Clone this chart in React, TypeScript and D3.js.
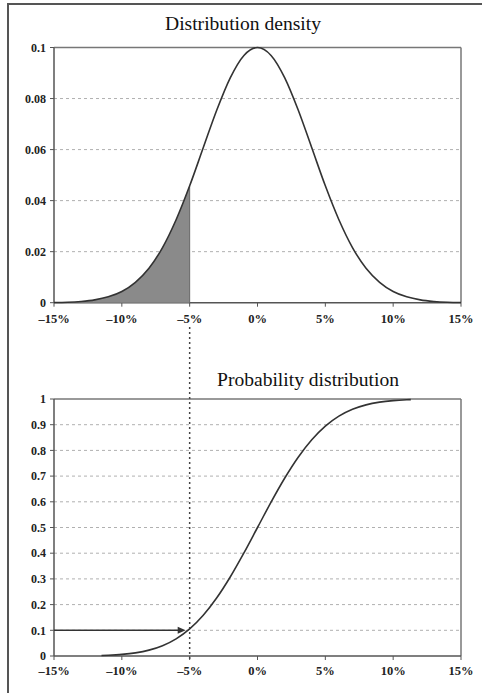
import React from "react";
import * as d3 from "d3";

// Returns (percent) at which the curves were read
const densityX = [-15, -14, -13, -12, -11, -10, -9, -8, -7, -6, -5, -4, -3, -2, -1, 0, 1, 2, 3, 4, 5, 6, 7, 8, 9, 10, 11, 12, 13, 14, 15];
const densityY = [0.0001, 0.0002, 0.0005, 0.0011, 0.0023, 0.0044, 0.008, 0.0135, 0.0216, 0.0325, 0.0458, 0.0607, 0.0755, 0.0882, 0.0969, 0.1, 0.0969, 0.0882, 0.0755, 0.0607, 0.0458, 0.0325, 0.0216, 0.0135, 0.008, 0.0044, 0.0023, 0.0011, 0.0005, 0.0002, 0.0001];

const cdfX = [-11.5, -11, -10, -9, -8, -7, -6, -5, -4, -3, -2, -1, 0, 1, 2, 3, 4, 5, 6, 7, 8, 9, 10, 11, 11.3];
const cdfY = [0.002, 0.003, 0.0062, 0.0122, 0.0228, 0.0401, 0.0668, 0.1056, 0.1587, 0.2266, 0.3085, 0.4013, 0.5, 0.5987, 0.6915, 0.7734, 0.8413, 0.8944, 0.9332, 0.9599, 0.9772, 0.9878, 0.9938, 0.997, 0.9976];

const xTicks = [-15, -10, -5, 0, 5, 10, 15];
const densityTicks = [0, 0.02, 0.04, 0.06, 0.08, 0.1];
const densityTickLabels = ["0", "0.02", "0.04", "0.06", "0.08", "0.1"];
const cdfTicks = [0, 0.1, 0.2, 0.3, 0.4, 0.5, 0.6, 0.7, 0.8, 0.9, 1];
const cdfTickLabels = ["0", "0.1", "0.2", "0.3", "0.4", "0.5", "0.6", "0.7", "0.8", "0.9", "1"];

const threshold = -5;
const thresholdProb = 0.1;

const titleTop = "Distribution density";
const titleBottom = "Probability distribution";

const W = 482;
const H = 693;
const FONT = "'Liberation Serif', 'Times New Roman', serif";

export default function App() {
  const x = d3.scaleLinear().domain([-15, 15]).range([54, 461]);
  const yTop = d3.scaleLinear().domain([0, 0.1]).range([302.7, 47.5]);
  const yBot = d3.scaleLinear().domain([0, 1]).range([656, 399]);

  const dens = densityX.map((v, i) => ({ x: v, y: densityY[i] }));
  const cdf = cdfX.map((v, i) => ({ x: v, y: cdfY[i] }));

  const densLine = d3
    .line<{ x: number; y: number }>()
    .x((d) => x(d.x))
    .y((d) => yTop(d.y))
    .curve(d3.curveMonotoneX);
  const densArea = d3
    .area<{ x: number; y: number }>()
    .x((d) => x(d.x))
    .y0(yTop(0))
    .y1((d) => yTop(d.y))
    .curve(d3.curveMonotoneX);
  const cdfLine = d3
    .line<{ x: number; y: number }>()
    .x((d) => x(d.x))
    .y((d) => yBot(d.y))
    .curve(d3.curveMonotoneX);

  const shaded = dens.filter((d) => d.x <= threshold);

  const fmtX = (v: number) => (v < 0 ? "\u2013" + Math.abs(v) : String(v)) + "%";

  const [x0, x1] = x.range();
  const gridColor = "#b0b0b0";
  const boxColor = "#777";
  const axisColor = "#555";
  const lineColor = "#333";

  const renderPanel = (
    y: d3.ScaleLinear<number, number>,
    ticks: number[],
    labels: string[],
    labelBaseline: number
  ) => {
    const yMin = y(ticks[0]);
    const yMax = y(ticks[ticks.length - 1]);
    return (
      <g>
        {ticks.slice(1, -1).map((t) => (
          <line key={"g" + t} x1={x0} x2={x1} y1={y(t)} y2={y(t)} stroke={gridColor} strokeWidth={1} strokeDasharray="3,3" />
        ))}
        <line x1={x0} x2={x1} y1={yMax} y2={yMax} stroke={boxColor} strokeWidth={1.5} />
        <line x1={x1} x2={x1} y1={yMax} y2={yMin} stroke={boxColor} strokeWidth={1.5} />
        <line x1={x0} x2={x0} y1={yMax} y2={yMin} stroke={axisColor} strokeWidth={1.5} />
        <line x1={x0} x2={x1} y1={yMin} y2={yMin} stroke={axisColor} strokeWidth={1.5} />
        {ticks.map((t, i) => (
          <g key={"yt" + t}>
            <line x1={x0 - 4} x2={x0} y1={y(t)} y2={y(t)} stroke={axisColor} strokeWidth={1} />
            <text x={x0 - 8} y={y(t)} dy="0.35em" textAnchor="end" fontFamily={FONT} fontWeight="bold" fontSize={12} fill="#222">
              {labels[i]}
            </text>
          </g>
        ))}
        {xTicks.map((t) => (
          <g key={"xt" + t}>
            <line x1={x(t)} x2={x(t)} y1={yMin} y2={yMin + 4} stroke={axisColor} strokeWidth={1} />
            <text x={x(t)} y={labelBaseline} textAnchor="middle" fontFamily={FONT} fontWeight="bold" fontSize={12.5} fill="#222">
              {fmtX(t)}
            </text>
          </g>
        ))}
      </g>
    );
  };

  const ax = x(threshold);
  const ay = yBot(thresholdProb);

  return (
    <svg width={W} height={H} style={{ position: "absolute", left: 0, top: 0, background: "#fff" }}>
      <rect x={0} y={0} width={W} height={H} fill="#fff" />
      <path d={`M${W + 5},4 H8 V${H + 5}`} fill="none" stroke="#555" strokeWidth={2} />

      <text x={243} y={30} textAnchor="middle" fontFamily={FONT} fontSize={18} fill="#111" textLength={156} lengthAdjust="spacingAndGlyphs">
        {titleTop}
      </text>
      <text x={308} y={386} textAnchor="middle" fontFamily={FONT} fontSize={18} fill="#111" textLength={182} lengthAdjust="spacingAndGlyphs">
        {titleBottom}
      </text>

      {renderPanel(yTop, densityTicks, densityTickLabels, 323)}
      <path d={densArea(shaded) || ""} fill="#8a8a8a" />
      <line x1={ax} x2={ax} y1={yTop(0)} y2={yTop(shaded[shaded.length - 1].y)} stroke="#666" strokeWidth={1} />
      <path d={densLine(dens) || ""} fill="none" stroke={lineColor} strokeWidth={1.6} />

      {renderPanel(yBot, cdfTicks, cdfTickLabels, 675)}
      <line x1={ax} x2={ax} y1={327} y2={yBot(0) + 4} stroke="#444" strokeWidth={1.5} strokeDasharray="2,3" />
      <path d={cdfLine(cdf) || ""} fill="none" stroke={lineColor} strokeWidth={1.6} />
      <line x1={x0} x2={ax - 10} y1={ay} y2={ay} stroke={lineColor} strokeWidth={1.5} />
      <path d={`M${ax - 4},${ay} L${ax - 12},${ay - 3.5} L${ax - 12},${ay + 3.5} Z`} fill={lineColor} />
    </svg>
  );
}
